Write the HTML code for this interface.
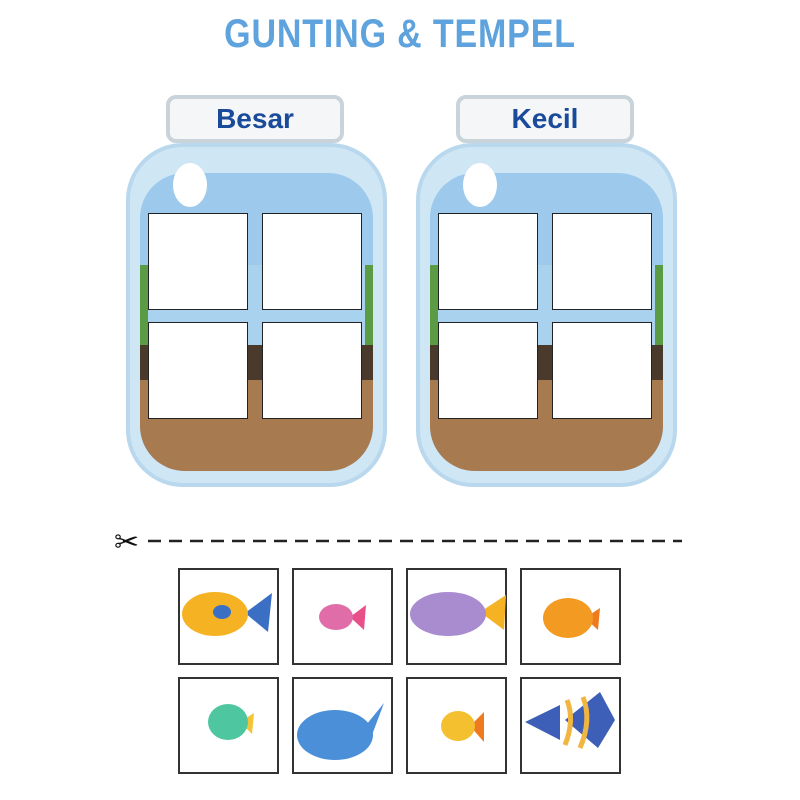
<!DOCTYPE html>
<html><head><style>
body{margin:0;width:800px;height:800px;background:#fff;position:relative;overflow:hidden;font-family:"Liberation Sans",sans-serif}
.t{position:absolute;left:0;width:800px;top:12px;text-align:center;font-weight:bold;font-size:40px;color:#5ea3dd;letter-spacing:1px;transform:scaleX(0.85)}
.b{position:absolute;background:#fff;border:1.5px solid #222;box-sizing:border-box}
.c{position:absolute;background:#fff;border:2px solid #333;box-sizing:border-box;width:101px;height:97px}
</style></head><body>
<div class="t">GUNTING &amp; TEMPEL</div>
<svg width="800" height="800" style="position:absolute;left:0;top:0">
<defs>
<g id="jar">
<rect x="0" y="50" width="257" height="340" rx="55" fill="#cfe6f5" stroke="#b9d8ee" stroke-width="4"/>
<clipPath id="cp"><rect x="12" y="78" width="233" height="298" rx="45"/></clipPath>
<g clip-path="url(#cp)">
<rect x="0" y="70" width="257" height="320" fill="#9cc9ec"/>
<rect x="0" y="170" width="257" height="120" fill="#a9d2ef"/>
<rect x="0" y="170" width="20" height="100" fill="#5a9b43"/>
<rect x="237" y="170" width="20" height="100" fill="#5a9b43"/>
<rect x="0" y="250" width="257" height="40" fill="#4a3a2c"/>
<rect x="0" y="285" width="257" height="110" fill="#a87a4f"/>
</g>
<ellipse cx="62" cy="90" rx="17" ry="22" fill="#fff"/>
<rect x="40" y="2" width="174" height="44" rx="8" fill="#f4f6f8" stroke="#c9d3da" stroke-width="4"/>
</g>
</defs>
<use href="#jar" x="128" y="95"/>
<use href="#jar" x="418" y="95"/>
<text x="255" y="128" text-anchor="middle" font-family="Liberation Sans" font-weight="bold" font-size="28" fill="#1a4a9a">Besar</text>
<text x="545" y="128" text-anchor="middle" font-family="Liberation Sans" font-weight="bold" font-size="28" fill="#1a4a9a">Kecil</text>
<line x1="148" y1="541" x2="682" y2="541" stroke="#222" stroke-width="2.5" stroke-dasharray="13,8"/>
<text x="114" y="552" font-size="30" fill="#111">✂</text>
</svg>
<div class="b" style="left:148px;top:213px;width:100px;height:97px"></div>
<div class="b" style="left:262px;top:213px;width:100px;height:97px"></div>
<div class="b" style="left:148px;top:322px;width:100px;height:97px"></div>
<div class="b" style="left:262px;top:322px;width:100px;height:97px"></div>
<div class="b" style="left:438px;top:213px;width:100px;height:97px"></div>
<div class="b" style="left:552px;top:213px;width:100px;height:97px"></div>
<div class="b" style="left:438px;top:322px;width:100px;height:97px"></div>
<div class="b" style="left:552px;top:322px;width:100px;height:97px"></div>

<div class="c" style="left:178px;top:568px"></div>
<div class="c" style="left:292px;top:568px"></div>
<div class="c" style="left:406px;top:568px"></div>
<div class="c" style="left:520px;top:568px"></div>
<div class="c" style="left:178px;top:677px"></div>
<div class="c" style="left:292px;top:677px"></div>
<div class="c" style="left:406px;top:677px"></div>
<div class="c" style="left:520px;top:677px"></div>
<svg width="800" height="800" style="position:absolute;left:0;top:0">
<polygon points="245,613 272,593 268,632" fill="#3a6fc4"/><ellipse cx="215" cy="614" rx="33" ry="22" fill="#f5b323"/><ellipse cx="222" cy="612" rx="9" ry="7" fill="#3a6fc4"/>
<polygon points="350,617 366,605 364,630" fill="#e8508a"/><ellipse cx="336" cy="617" rx="17" ry="13" fill="#e06ca8"/>
<polygon points="480,612 506,595 504,630" fill="#f5b323"/><ellipse cx="448" cy="614" rx="38" ry="22" fill="#a98bd0"/>
<polygon points="585,618 600,608 598,630" fill="#f07a20"/><ellipse cx="568" cy="618" rx="25" ry="20" fill="#f39a23"/>
<polygon points="240,722 254,713 252,734" fill="#f5c33a"/><ellipse cx="228" cy="722" rx="20" ry="18" fill="#4ec7a0"/>
<ellipse cx="335" cy="735" rx="38" ry="25" fill="#4b8fd8"/><polygon points="362,730 384,703 372,735" fill="#4b8fd8"/>
<polygon points="470,726 484,712 484,742" fill="#f07a20"/><ellipse cx="458" cy="726" rx="17" ry="15" fill="#f5c030"/>
<polygon points="565,720 600,692 615,720 598,748" fill="#3d5fb8"/><polygon points="525,722 560,705 560,740" fill="#3d5fb8"/><path d="M567,700 Q575,720 565,745 M583,697 Q592,720 580,748" stroke="#f0b640" stroke-width="5" fill="none"/>
</svg>
</body></html>
